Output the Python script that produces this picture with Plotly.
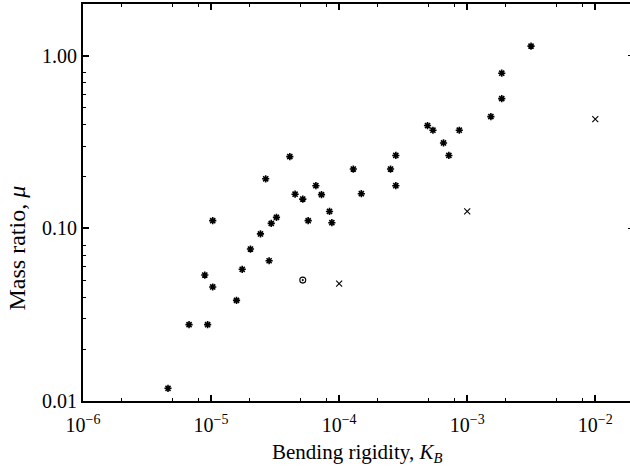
import plotly.graph_objects as go

# Asterisk series
k_star = [4.61e-6, 6.73e-6, 8.93e-6, 9.4e-6, 1.03e-5, 1.03e-5, 1.58e-5, 1.75e-5, 2.03e-5,
          2.43e-5, 2.67e-5, 2.84e-5, 2.95e-5, 3.24e-5, 4.12e-5, 4.53e-5, 5.2e-5, 5.73e-5,
          6.58e-5, 7.28e-5, 8.41e-5, 8.77e-5, 1.29e-4, 1.49e-4, 2.52e-4, 2.77e-4, 2.77e-4,
          4.9e-4, 5.4e-4, 6.53e-4, 7.19e-4, 8.67e-4, 1.53e-3, 1.86e-3, 1.86e-3, 3.15e-3]
mu_star = [0.01185, 0.0277, 0.0537, 0.0277, 0.0458, 0.111, 0.0383, 0.058, 0.076,
           0.093, 0.194, 0.065, 0.107, 0.116, 0.261, 0.158, 0.148, 0.111,
           0.177, 0.157, 0.1255, 0.108, 0.221, 0.159, 0.221, 0.265, 0.177,
           0.395, 0.371, 0.313, 0.265, 0.371, 0.445, 0.794, 0.566, 1.14]

# Cross series
k_cross = [1e-4, 1e-3, 1e-2]
mu_cross = [0.0479, 0.1255, 0.430]

# Circle-dot series
k_circ = [5.2e-5]
mu_circ = [0.0502]

x_tickvals = [1e-6, 1e-5, 1e-4, 1e-3, 1e-2]
x_ticktext = ["10<sup>\u22126</sup>", "10<sup>\u22125</sup>", "10<sup>\u22124</sup>",
              "10<sup>\u22123</sup>", "10<sup>\u22122</sup>"]
y_tickvals = [0.01, 0.1, 1.0]
y_ticktext = ["0.01", "0.10", "1.00"]

x_minor = [m * 10 ** e for e in range(-6, -1) for m in (2, 5, 8)]
y_minor = [m * 10 ** e for e in range(-2, 1) for m in (2, 3, 4, 5, 6, 7, 8)]

FONT = "Liberation Serif"

fig = go.Figure()
fig.add_trace(go.Scatter(x=k_star, y=mu_star, mode="markers",
                         marker=dict(symbol="asterisk-open", size=6, color="black",
                                     line=dict(color="black", width=1.6))))
fig.add_trace(go.Scatter(x=k_cross, y=mu_cross, mode="markers",
                         marker=dict(symbol="x-thin-open", size=6, color="black",
                                     line=dict(color="black", width=1.1))))
fig.add_trace(go.Scatter(x=k_circ, y=mu_circ, mode="markers",
                         marker=dict(symbol="circle-open-dot", size=6, color="black",
                                     line=dict(color="black", width=1.1))))
# invisible trace for right axis ticks
fig.add_trace(go.Scatter(x=[1e-3], y=[0.1], yaxis="y2", mode="markers",
                         marker=dict(opacity=0), hoverinfo="skip"))

fig.update_layout(
    width=630, height=466,
    margin=dict(l=83, r=0, t=4, b=65),
    paper_bgcolor="white", plot_bgcolor="white",
    showlegend=False,
    font=dict(family=FONT, size=19, color="black"),
    xaxis=dict(type="log", range=[-6, -1.729],
               tickvals=x_tickvals, ticktext=x_ticktext,
               ticks="inside", ticklen=6, tickwidth=1.5, tickcolor="black",
               ticklabelstandoff=5,
               minor=dict(tickvals=x_minor, ticks="inside", ticklen=3, tickwidth=1.2, tickcolor="black"),
               showline=True, linecolor="black", linewidth=2, mirror="ticks",
               showgrid=False, zeroline=False,
               tickfont=dict(family=FONT, size=20)),
    yaxis=dict(type="log", range=[-2, 0.301],
               tickvals=y_tickvals, ticktext=y_ticktext,
               ticks="inside", ticklen=6, tickwidth=1.5, tickcolor="black",
               minor=dict(tickvals=y_minor, ticks="inside", ticklen=3, tickwidth=1.2, tickcolor="black"),
               showline=True, linecolor="black", linewidth=2,
               showgrid=False, zeroline=False,
               tickfont=dict(family=FONT, size=20)),
    yaxis2=dict(type="log", range=[-2, 0.301], overlaying="y", side="right",
                tickvals=[0.1, 1.0], showticklabels=False,
                ticks="inside", ticklen=2, tickwidth=1.2, tickcolor="black",
                showline=False, showgrid=False, zeroline=False),
    annotations=[
        dict(text="Bending rigidity, <i>K</i><sub><i>B</i></sub>", xref="paper", yref="paper",
             x=0.5, y=-0.13, xanchor="center", yanchor="middle", showarrow=False,
             font=dict(family=FONT, size=21)),
        dict(text="Mass ratio, <i>\u03bc</i>", xref="paper", yref="paper",
             x=-0.12, y=0.385, xanchor="center", yanchor="middle", textangle=-90,
             showarrow=False, font=dict(family=FONT, size=24)),
    ],
)

fig.write_html("out.html")
